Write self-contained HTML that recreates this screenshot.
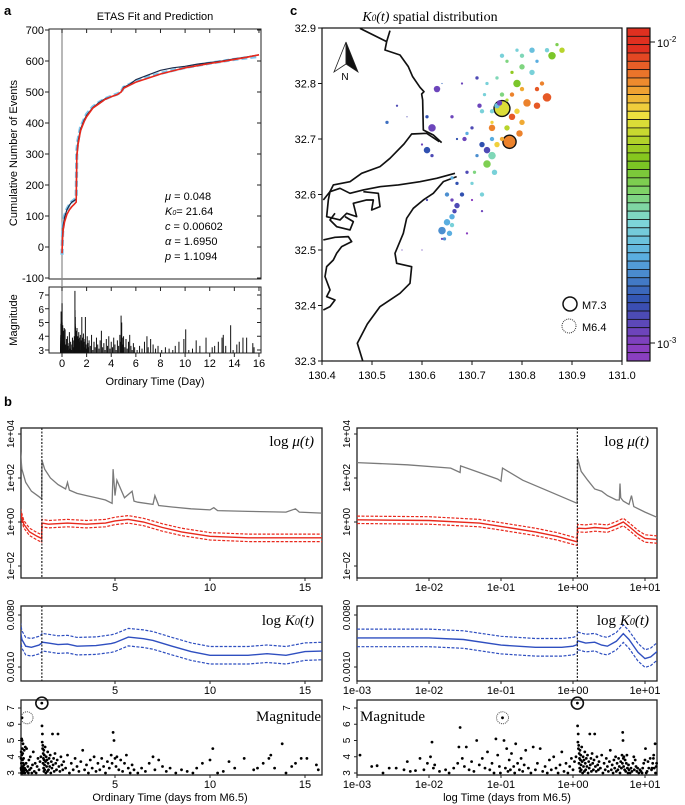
<!DOCTYPE html>
<html><head><meta charset="utf-8"><style>
html,body{margin:0;padding:0;background:#fff}
svg{display:block;font-family:"Liberation Sans",sans-serif}
.serif{font-family:"Liberation Serif",serif}
</style></head><body>
<svg id="fig" width="685" height="805" viewBox="0 0 685 805" xmlns="http://www.w3.org/2000/svg">
<defs>
<clipPath id="cA"><rect x="49" y="29" width="212" height="250"/></clipPath>
<clipPath id="cAm"><rect x="49" y="287" width="212" height="66"/></clipPath>
<clipPath id="cC"><rect x="322" y="28" width="300" height="333"/></clipPath>
<clipPath id="cL1"><rect x="21" y="428" width="301" height="150"/></clipPath>
<clipPath id="cL2"><rect x="21" y="606" width="301" height="75"/></clipPath>
<clipPath id="cR1"><rect x="357" y="428" width="300" height="150"/></clipPath>
<clipPath id="cR2"><rect x="357" y="606" width="300" height="75"/></clipPath>
</defs>
<text x="4" y="15" font-size="13" font-weight="bold">a</text>
<text x="290" y="15" font-size="13" font-weight="bold">c</text>
<text x="4" y="406" font-size="13" font-weight="bold">b</text>
<text x="155" y="20" font-size="11" text-anchor="middle">ETAS Fit and Prediction</text>
<text x="0" y="0" font-size="11" text-anchor="middle" transform="translate(17,153) rotate(-90)">Cumulative Number of Events</text>
<text x="0" y="0" font-size="11" text-anchor="middle" transform="translate(17,320) rotate(-90)">Magnitude</text>
<text x="155" y="385" font-size="11" text-anchor="middle">Ordinary Time (Day)</text>
<g font-size="11">
<text x="165" y="200"><tspan font-style="italic">μ</tspan> = 0.048</text>
<text x="165" y="215"><tspan font-style="italic">K</tspan><tspan font-size="7" font-style="italic">0</tspan>=   21.64</text>
<text x="165" y="230"><tspan font-style="italic">c</tspan> =  0.00602</text>
<text x="165" y="245"><tspan font-style="italic">α</tspan> =  1.6950</text>
<text x="165" y="260"><tspan font-style="italic">p</tspan> = 1.1094</text>
</g>
<text x="430" y="21" font-size="14" text-anchor="middle" class="serif"><tspan font-style="italic">K</tspan><tspan font-size="9" font-style="italic">0</tspan><tspan font-style="italic">(t)</tspan> spatial distribution</text>
<g id="gA"></g><g id="gC"></g><g id="gB"></g>
<text x="170" y="801" font-size="11" text-anchor="middle">Ordinary Time (days from M6.5)</text>
<text x="507" y="801" font-size="11" text-anchor="middle">log Time (days from M6.5)</text>
</svg>
<script>
// ---------- data: catalog events (days from start, magnitude) ----------
const evT=[.0011,.0016,.0019,.0023,.0028,.0035,.0045,.005,.0055,.0065,.0075,.0085,.0095,.0105,.011,.0115,.012,.014,.017,.019,.022,.025,.026,.027,.029,.031,.033,.036,.039,.042,.046,.05,.055,.06,.065,.07,.075,.08,.085,.09,.095,.098,
.105,.11,.115,.12,.125,.13,.135,.14,.15,.155,.16,.17,.18,.19,.2,.21,.22,.24,.26,.28,.3,.32,.35,.38,.41,.44,.47,.5,.54,.58,.62,.66,.7,.75,.8,.85,.9,.95,1.0,1.05,1.1,
1.15,1.16,1.17,1.18,1.19,1.2,1.21,1.22,1.23,1.24,1.25,1.26,1.27,1.28,1.29,1.3,1.32,1.34,1.36,1.38,1.4,1.42,1.44,1.46,1.48,1.5,1.53,1.56,1.59,1.62,1.65,1.68,1.71,1.74,1.77,1.8,1.84,1.88,1.92,1.96,2.0,2.05,2.1,2.15,2.2,2.25,2.3,2.4,2.5,2.6,2.7,2.8,2.9,3.0,3.1,3.2,3.3,3.4,3.5,3.6,3.7,3.8,3.9,4.0,4.1,4.2,4.3,4.4,4.5,4.6,4.7,4.8,4.85,4.9,4.95,5.0,5.05,5.1,5.2,5.3,5.4,5.5,5.6,5.7,5.8,5.9,6.0,6.2,6.4,6.6,6.8,7.0,7.1,7.3,7.5,7.7,7.9,8.2,8.5,8.8,9.1,9.3,9.6,10.0,10.15,10.4,10.7,11.0,11.3,11.8,12.3,12.5,12.8,13.1,13.2,13.4,13.8,14.0,14.3,14.5,14.8,15.1,15.6,15.7];
const evM=[4.1,3.4,3.45,3.0,3.3,3.3,3.2,3.7,3.1,3.15,3.9,3.2,3.6,4.0,4.9,3.3,3.5,3.1,3.2,3.0,3.3,3.6,4.6,5.8,3.9,3.4,4.6,3.2,3.7,3.1,5.0,3.5,3.9,3.3,4.3,3.2,3.6,3.0,5.1,4.1,3.4,3.0,
6.4,5.0,3.3,4.5,3.1,3.8,3.2,4.2,3.4,3.0,4.8,3.6,3.2,3.9,3.1,3.5,4.4,3.3,3.0,4.6,3.2,3.6,4.5,3.1,3.4,3.0,3.8,3.2,4.0,3.3,3.0,3.5,4.3,3.1,3.6,3.0,3.4,3.9,3.2,3.7,4.0,
7.3,5.9,4.9,5.4,4.5,4.7,3.6,4.2,3.9,3.3,4.4,3.1,3.8,4.1,3.5,3.2,4.6,3.7,3.0,4.0,3.4,3.8,3.1,4.3,3.6,3.2,3.9,3.4,4.1,3.0,3.7,3.3,5.4,3.5,3.9,3.1,4.2,3.6,3.2,3.8,5.4,3.4,3.1,4.0,3.5,3.2,3.7,3.3,4.1,3.0,3.6,3.2,3.9,3.4,3.1,3.7,4.4,3.2,3.5,3.0,3.8,3.3,4.0,3.1,3.6,3.2,3.9,3.4,3.0,3.7,3.3,4.1,3.6,5.5,5.0,3.9,3.4,4.0,3.2,3.8,3.1,3.6,4.1,3.3,3.0,3.5,3.2,3.0,3.3,3.1,3.6,4.0,3.2,3.8,3.4,3.1,3.3,3.0,3.2,3.1,3.0,3.3,3.6,3.8,4.5,3.0,3.1,3.7,3.3,3.9,3.2,3.3,3.6,3.9,4.1,3.3,4.8,3.0,3.4,3.6,3.9,3.9,3.5,3.2];
// ---------- panel a: cumulative counts ----------
const cumT=[0,0.05,0.1,0.2,0.4,0.6,0.8,1.0,1.15,1.2,1.3,1.5,1.8,2,2.5,3,3.5,4,4.5,4.8,5,5.5,6,7,8,9,10,11,12,13,14,15,16];
const cumObs=[-20,40,70,95,120,135,145,150,155,300,340,380,410,425,450,465,478,485,492,500,515,525,540,555,570,578,583,590,595,600,607,613,620];
const cumFit=[-20,30,55,80,105,120,130,138,145,290,330,375,405,420,448,462,476,485,492,500,512,522,532,545,558,568,578,585,592,598,605,612,620];
const cumPred=[-25,45,75,100,122,136,146,152,160,310,345,385,412,428,452,466,478,486,494,500,515,525,535,548,560,570,579,586,593,599,605,610,615];
const aXTicks=[0,2,4,6,8,10,12,14,16];
const aYTicks=[-100,0,100,200,300,400,500,600,700];
const aMTicks=[3,4,5,6,7];
// ---------- panel b: background rate mu (log10) ----------
const tGL=[0.02,0.1,0.3,0.6,1.0,1.14,1.16,1.3,1.6,2,2.4,2.5,2.6,3,3.5,4,4.5,4.85,4.9,5.0,5.1,5.5,5.9,6.0,6.2,7.0,7.1,7.3,8,9,10,10.2,10.4,12,14,14.5,14.7,16];
const grayL=[3.2,2.4,1.8,1.4,1.15,1.05,2.8,2.4,2.0,1.7,1.5,1.8,1.45,1.3,1.2,1.1,1.0,0.85,2.4,1.2,1.9,1.1,1.4,0.95,0.9,0.8,1.2,0.75,0.68,0.6,0.55,0.65,0.52,0.48,0.45,0.6,0.45,0.4];
const tRL=[0.02,0.2,0.5,0.9,1.14,1.16,1.5,2.5,3.5,4.5,5.0,5.7,6.5,7.5,8.5,10,12,14,16];
const redL=[0.45,-0.1,-0.45,-0.65,-0.75,-0.05,-0.1,-0.05,-0.1,-0.05,0.05,0.12,0.0,-0.25,-0.45,-0.65,-0.72,-0.72,-0.72];
const tGR=[0.001,0.005,0.02,0.027,0.0275,0.05,0.09,0.1,0.105,0.2,0.5,1.14,1.16,1.3,1.6,2,2.5,3,4,4.4,4.5,4.6,5,6,6.5,7,10,15];
const grayR=[2.7,2.6,2.45,2.25,2.55,2.25,1.95,1.85,2.45,1.9,1.35,0.85,2.9,2.3,1.9,1.5,1.4,1.2,1.0,1.0,1.75,1.1,0.95,0.8,1.2,0.7,0.45,0.2];
const tRR=[0.001,0.01,0.05,0.1,0.3,0.6,1.14,1.16,1.5,2,3,4,5,6,8,10,15];
const redR=[0.1,0.07,-0.05,-0.2,-0.45,-0.65,-0.9,-0.28,-0.3,-0.25,-0.3,-0.15,0.0,-0.2,-0.55,-0.75,-0.8];
const redBand=0.17;
// ---------- panel b: K0 (x1e-3) ----------
const tKL=[0.02,0.1,0.3,0.6,1.0,1.14,1.16,1.5,2,2.5,3,4,4.8,5.0,5.7,6.5,7,8,9,10,12,13,14,15,16];
const kL=[4.2,3.0,2.3,2.2,2.4,2.6,2.7,2.6,2.45,2.5,2.3,2.35,2.55,2.65,3.3,3.1,2.9,2.3,1.85,1.6,1.6,1.7,1.6,1.85,1.9];
const tKR=[0.001,0.01,0.03,0.1,0.3,0.7,1.0,1.14,1.16,1.5,2,2.5,3,4,5,6,8,10,12,15];
const kR=[3.2,3.2,3.0,2.4,2.2,2.2,2.3,2.45,2.85,2.6,2.7,2.4,2.3,2.8,3.8,3.0,1.8,1.4,1.5,1.9];
const kBand=1.42;
const mainShockT=1.15, foreShockT=0.105;
const linTicks=[5,10,15];
const logTicks=[0.001,0.01,0.1,1,10];
const logTickLabels=["1e-03","1e-02","1e-01","1e+00","1e+01"];
const muTicks=[4,2,0,-2];
const muTickLabels=["1e+04","1e+02","1e+00","1e\u221202"];
const kTicks=[0.008,0.001];
const kTickLabels=["0.0080","0.0010"];
const bMTicks=[3,4,5,6,7];
// ---------- panel c: epicentres ----------
const dotLon=[130.85,130.81,130.79,130.83,130.795,130.78,130.80,130.79,130.77,130.74,130.82,130.80,130.84,130.83,130.86,130.88,130.85,130.87,130.82,130.80,130.83,130.75,130.74,130.76,130.755,130.73,130.72,130.74,130.73,130.745,130.75,130.76,130.74,130.71,130.705,130.70,130.72,130.68,130.67,130.66,130.665,130.66,130.65,130.64,130.655,130.645,130.66,130.65,130.67,130.66,130.69,130.70,130.72,130.69,130.61,130.62,130.63,130.61,130.62,130.70,130.69,130.685,130.66,130.67,130.71,130.68,130.73,130.715,130.75,130.725,130.77,130.78,130.76,130.79,130.78,130.80,130.77,130.72,130.74,130.64,130.61,130.56,130.55,130.53,130.60,130.64,130.57,130.42,130.60,130.76,130.775];
const dotLat=[32.775,32.765,32.80,32.76,32.71,32.74,32.73,32.75,32.72,32.72,32.82,32.83,32.80,32.79,32.85,32.86,32.86,32.87,32.86,32.85,32.84,32.76,32.75,32.78,32.765,32.68,32.69,32.67,32.655,32.64,32.69,32.70,32.70,32.67,32.64,32.62,32.60,32.60,32.58,32.59,32.57,32.56,32.55,32.535,32.53,32.52,32.545,32.60,32.62,32.63,32.64,32.59,32.57,32.53,32.68,32.72,32.79,32.74,32.67,32.72,32.71,32.70,32.74,32.70,32.81,32.80,32.80,32.76,32.81,32.78,32.84,32.82,32.85,32.86,32.78,32.79,32.77,32.75,32.73,32.52,32.59,32.50,32.76,32.73,32.69,32.80,32.74,32.30,32.50,32.755,32.695];
const dotMag=[5.5,5,5,4.5,4.5,4.5,4,4,4,4.5,4,4,3.5,3.5,5,4,3.5,3,4,3.5,3,4,3.5,3.5,4,4.5,4,5,5,4,4,3.5,3.5,3,3,3,3.5,3.5,4,3,3.5,4,4.5,5,4,3,3.5,3.5,3,3,3,2.5,2.5,2.5,4.5,5,4.5,3,3,3,3,3.5,3,2.5,3,2.5,3,3.5,3,3,3,3,3.5,3,3.5,3.5,3,3.5,3,2.5,2.5,2,2.5,3,2.5,2,2,2,2,7.3,6.4];
const dotK=[-2.05,-2.1,-2.4,-2.05,-2.1,-2.05,-2.15,-2.2,-2.3,-2.1,-2.6,-2.5,-2.1,-2.05,-2.4,-2.3,-2.6,-2.45,-2.65,-2.55,-2.7,-2.65,-2.6,-2.5,-2.95,-2.9,-2.85,-2.55,-2.45,-2.6,-2.2,-2.15,-2.7,-2.75,-2.5,-2.6,-2.6,-2.85,-2.9,-2.95,-2.9,-2.7,-2.7,-2.75,-2.7,-2.75,-2.6,-2.75,-2.85,-2.7,-2.9,-3,-2.95,-3,-2.85,-2.95,-2.95,-2.85,-2.9,-2.9,-2.7,-2.95,-2.95,-2.85,-2.9,-2.95,-2.6,-2.95,-2.55,-2.6,-2.5,-2.35,-2.6,-2.6,-2.1,-2.15,-2.3,-2.6,-2.2,-2.95,-2.9,-2.95,-2.9,-2.8,-2.95,-2.8,-2.9,-2.95,-2.95,-2.25,-2.1];
const lonTicks=[130.4,130.5,130.6,130.7,130.8,130.9,131.0];
const latTicks=[32.3,32.4,32.5,32.6,32.7,32.8,32.9];

// ================= drawing =================
const NS="http://www.w3.org/2000/svg";
function mk(parent,tag,attrs){const e=document.createElementNS(NS,tag);for(const k in attrs)e.setAttribute(k,attrs[k]);parent.appendChild(e);return e;}
function pathFrom(xs,ys,fx,fy){let d="";for(let i=0;i<xs.length;i++)d+=(i?"L":"M")+fx(xs[i]).toFixed(1)+","+fy(ys[i]).toFixed(1);return d;}
function txt(parent,x,y,s,size,anchor){const t=mk(parent,"text",{x:x,y:y,"font-size":size,"text-anchor":anchor||"middle"});t.textContent=s;return t;}

// ---- Panel A ----
const gA=document.getElementById("gA");
const xa=t=>62+t*12.31, ya=v=>278-(v+100)*0.31, yam=m=>350-(m-3)*13.75;
let r=mk(gA,"rect",{x:49,y:29,width:212,height:250,fill:"none",stroke:"#222","stroke-width":1});


r=mk(gA,"rect",{x:49,y:287,width:212,height:66,fill:"none",stroke:"#222","stroke-width":1});


let l=mk(gA,"line",{x1:xa(0),x2:xa(0),y1:29,y2:353,stroke:"#888","stroke-width":1.2});


aXTicks.forEach(v=>{mk(gA,"line",{x1:xa(v),x2:xa(v),y1:29,y2:33,stroke:"#222"});mk(gA,"line",{x1:xa(v),x2:xa(v),y1:287,y2:291,stroke:"#222"});mk(gA,"line",{x1:xa(v),x2:xa(v),y1:353,y2:357,stroke:"#222"});
 const t=txt(gA,xa(v),367,String(v),11);});
aYTicks.forEach(v=>{mk(gA,"line",{x1:45,x2:49,y1:ya(v),y2:ya(v),stroke:"#222"});mk(gA,"line",{x1:261,x2:257,y1:ya(v),y2:ya(v),stroke:"#222"});
 const t=txt(gA,44,ya(v)+4,String(v),11,"end");});
aMTicks.forEach(v=>{mk(gA,"line",{x1:45,x2:49,y1:yam(v),y2:yam(v),stroke:"#222"});mk(gA,"line",{x1:261,x2:257,y1:yam(v),y2:yam(v),stroke:"#222"});
 const t=txt(gA,44,yam(v)+4,String(v),10,"end");});
const gAc=mk(gA,"g",{"clip-path":"url(#cA)"});
let p=mk(gAc,"path",{d:pathFrom(cumT,cumPred,xa,ya),fill:"none",stroke:"#7fc6ec","stroke-width":3.2,"stroke-dasharray":"6,3"});


p=mk(gAc,"path",{d:pathFrom(cumT,cumObs,xa,ya),fill:"none",stroke:"#1b2a4a","stroke-width":1.2});


p=mk(gAc,"path",{d:pathFrom(cumT,cumFit,xa,ya),fill:"none",stroke:"#e8281c","stroke-width":1.6});


const gAm=mk(gA,"g",{"clip-path":"url(#cAm)"});
for(let i=0;i<evT.length;i++){const b=mk(gAm,"line",{x1:xa(evT[i]-0.1),x2:xa(evT[i]-0.1),y1:353,y2:yam(evM[i]),stroke:"#111","stroke-width":1});
 
 }

// ---- Panel C ----
const gC=document.getElementById("gC");
const xc=lo=>322+(lo-130.4)*500, yc=la=>361-(la-32.3)*555;
function kColor(k){const f=Math.max(0,Math.min(1,(k+3)));
 const st=[[0,[138,63,192]],[0.15,[48,80,176]],[0.3,[90,174,224]],[0.42,[127,216,216]],[0.52,[127,212,106]],[0.62,[122,194,26]],[0.72,[200,216,48]],[0.78,[240,224,64]],[0.87,[240,154,48]],[1,[224,48,32]]];
 for(let i=1;i<st.length;i++){if(f<=st[i][0]){const a=st[i-1],b=st[i],u=(f-a[0])/(b[0]-a[0]);return "rgb("+a[1].map((c,j)=>Math.round(c+(b[1][j]-c)*u)).join(",")+")";}}return "rgb(224,48,32)";}
const gCc=mk(gC,"g",{"clip-path":"url(#cC)"});
const coast=mk(gCc,"g",{transform:"translate(280,0) scale(0.3333)",fill:"none",stroke:"#111","stroke-width":5,"stroke-linejoin":"round"});


["M240,85 L320,125 L330,92 M320,125 L315,150 L360,165 L385,200 L398,230 L420,262 L432,275 L425,282 L428,300 L430,390 L460,405 L485,428",
 "M478,425 L440,400 L395,402 L372,432 L330,475 L300,500 L245,520 L210,545 L160,555 L150,575 L130,600",
 "M525,520 L470,535 L420,545 L355,555 L300,560 L250,570 L210,580 L180,565 L150,575 L145,600 L140,650 L180,660 L200,640 L230,650 L220,610 L260,600 L280,600 L275,630 L300,620 L295,580 L250,575",
 "M530,530 L490,545 L460,580 L430,600 L400,625 L380,655 L370,700 L345,760 L350,790 L395,800 L390,850 L360,880 L300,920 L262,972 L232,1030 L248,1082",
 "M130,720 L165,712 L205,710 L215,725 L185,740 L170,760 L160,780 L140,800 L135,830 L150,870 L140,890 L165,900 L150,920 L130,930",
 "M165,640 L150,660 L170,680 L210,690 L220,665 L195,650"
].forEach(d=>mk(coast,"path",{d:d}));
const order=dotLon.map((_,i)=>i).sort((a,b)=>dotMag[b]-dotMag[a]);
order.forEach(i=>{const big=dotMag[i]>=6;const rad=big?(dotMag[i]-2)*1.5:0.6+(dotMag[i]-2)*1.05;
 const c=mk(gCc,"circle",{cx:xc(dotLon[i]),cy:yc(dotLat[i]),r:rad.toFixed(2),fill:kColor(dotK[i]),stroke:big?"#111":"none","stroke-width":1.4});
 
 });
r=mk(gC,"rect",{x:322,y:28,width:300,height:333,fill:"none",stroke:"#111","stroke-width":1.2});


lonTicks.forEach(v=>{mk(gC,"line",{x1:xc(v),x2:xc(v),y1:361,y2:365,stroke:"#111"});const t=txt(gC,xc(v),379,v.toFixed(1),11);});
latTicks.forEach(v=>{mk(gC,"line",{x1:318,x2:322,y1:yc(v),y2:yc(v),stroke:"#111"});const t=txt(gC,316,yc(v)+4,v.toFixed(1),11,"end");});
const na=mk(gC,"g",{});


mk(na,"path",{d:"M346,42 L334,72 L346,64 Z",fill:"#fff",stroke:"#222","stroke-width":0.8});
mk(na,"path",{d:"M346,42 L358,72 L346,64 Z",fill:"#111",stroke:"#222","stroke-width":0.8});
txt(na,345,80,"N",10);
const lg=mk(gC,"g",{});


mk(lg,"circle",{cx:570,cy:304,r:7,fill:"none",stroke:"#111","stroke-width":1.5});
txt(lg,582,309,"M7.3",11,"start");
mk(lg,"circle",{cx:569,cy:326,r:7,fill:"none",stroke:"#333","stroke-width":1,"stroke-dasharray":"1,1"});
txt(lg,582,331,"M6.4",11,"start");
const cb=mk(gC,"g",{});


const nSeg=40, cbTop=28, cbBot=361, ykc=k=>343-(k+3)*301;
for(let i=0;i<nSeg;i++){const y0=cbTop+(cbBot-cbTop)*i/nSeg,h=(cbBot-cbTop)/nSeg;const kk=-3.05+1.12*(1-(i+0.5)/nSeg);
 mk(cb,"rect",{x:627,y:y0.toFixed(2),width:23,height:h.toFixed(2),fill:kColor(kk),stroke:"#111","stroke-width":0.8});}
mk(cb,"rect",{x:627,y:28,width:23,height:333,fill:"none",stroke:"#111","stroke-width":1.2});
[[-2,"-2"],[-3,"-3"]].forEach(([k,s])=>{mk(cb,"line",{x1:650,x2:655,y1:ykc(k),y2:ykc(k),stroke:"#111"});
 const t=mk(cb,"text",{x:657,y:ykc(k)+5,"font-size":11});t.textContent="10";const ts=mk(t,"tspan",{dy:-5,"font-size":8});ts.textContent=s;});

// ---- Panel B ----
const gB=document.getElementById("gB");
const xl=t=>20+t*19, xr=t=>573+Math.log10(t)*72;
const ymu=v=>522-v*22, yk=v=>615+(-2.097-Math.log10(v))*57.6, ymb=m=>773-(m-3)*16.25;
function frame(x,y,w,h,name){const f=mk(gB,"rect",{x:x,y:y,width:w,height:h,fill:"none",stroke:"#222","stroke-width":1.3});}
function yTick(x,y,s,name){mk(gB,"line",{x1:x-3,x2:x,y1:y,y2:y,stroke:"#222"});const t=mk(gB,"text",{x:0,y:0,"font-size":10,"text-anchor":"middle",transform:"translate("+(x-7)+","+y+") rotate(-90)"});t.textContent=s;}
function xTick(x,yb,yl,s,name){mk(gB,"line",{x1:x,x2:x,y1:yb,y2:yb+3,stroke:"#222"});if(s!==null){const t=txt(gB,x,yl,s,11);}}
function label(x,y,parts,name){const t=mk(gB,"text",{x:x,y:y,"font-size":15,"text-anchor":"end","font-family":"Liberation Serif, serif"});parts.forEach(([s,it,sz])=>{const sp=mk(t,"tspan",{});if(it)sp.setAttribute("font-style","italic");if(sz)sp.setAttribute("font-size",sz);sp.textContent=s;});}
function vdash(x,y1,y2){const d=mk(gB,"line",{x1:x,x2:x,y1:y1,y2:y2,stroke:"#222","stroke-width":1.2,"stroke-dasharray":"2,1.5"});}
function band(g,ts,vs,fx,fy,col,off,mult,name){
 const up=vs.map(v=>mult?v*off:v+off), lo=vs.map(v=>mult?v/off:v-off);
 [up,lo].forEach(a=>{const q=mk(g,"path",{d:pathFrom(ts,a,fx,fy),fill:"none",stroke:col,"stroke-width":1.2,"stroke-dasharray":"3,1.5"});});
 const q=mk(g,"path",{d:pathFrom(ts,vs,fx,fy),fill:"none",stroke:col,"stroke-width":1.4});}
[[21,xl,"cL1","cL2",false],[357,xr,"cR1","cR2",true]].forEach(([X0,fx,c1,c2,isLog])=>{
 const W=isLog?300:301;
 frame(X0,428,W,150,isLog?'mu-log-frame':'mu-ordinary-frame');
 muTicks.forEach((v,i)=>yTick(X0,ymu(v),muTickLabels[i],'mu-y-tick-label'));
 const g1=mk(gB,"g",{"clip-path":"url(#"+c1+")"});
 const gp=mk(g1,"path",{d:isLog?pathFrom(tGR,grayR,fx,ymu):pathFrom(tGL,grayL,fx,ymu),fill:"none",stroke:"#7a7a7a","stroke-width":1.3});
 
 
 if(isLog)band(g1,tRR,redR,fx,ymu,"#e8281c",redBand,false,'mu-line');else band(g1,tRL,redL,fx,ymu,"#e8281c",redBand,false,'mu-line');
 vdash(fx(mainShockT),428,578);
 label(X0+W-8,446,[["log "],["μ(t)",true]],'mu-label');
 if(isLog)logTicks.forEach((v,i)=>xTick(fx(v),578,591,i===0?null:logTickLabels[i],'mu-x-tick-label'));
 else linTicks.forEach(v=>xTick(fx(v),578,591,String(v),'mu-x-tick-label'));
 frame(X0,606,W,75,isLog?'k0-log-frame':'k0-ordinary-frame');
 kTicks.forEach((v,i)=>yTick(X0,yk(v),kTickLabels[i],'k0-y-tick-label'));
 const g2=mk(gB,"g",{"clip-path":"url(#"+c2+")"});
 const kk=(isLog?kR:kL).map(v=>v/1000);
 band(g2,isLog?tKR:tKL,kk,fx,yk,"#2f4fc0",kBand,true,'k0-line');
 vdash(fx(mainShockT),606,681);
 label(X0+W-8,625,[["log "],["K",true],["0",true,10],["(t)",true]],'k0-label');
 if(isLog)logTicks.forEach((v,i)=>xTick(fx(v),681,694,logTickLabels[i],'k0-x-tick-label'));
 else linTicks.forEach(v=>xTick(fx(v),681,694,String(v),'k0-x-tick-label'));
 frame(X0,700,W,75,isLog?'mag-log-frame':'mag-ordinary-frame');
 bMTicks.forEach(v=>yTick(X0,ymb(v),String(v),'mag-y-tick-label'));
 for(let i=0;i<evT.length;i++){const x=fx(evT[i]);if(x<X0||x>X0+W)continue;
  const pt=mk(gB,"circle",{cx:x.toFixed(1),cy:ymb(evM[i]).toFixed(1),r:1.4,fill:"#000"});
  
  }
 let cm=mk(gB,"circle",{cx:fx(mainShockT),cy:ymb(7.3),r:6,fill:"none",stroke:"#111","stroke-width":1.6});
 
 
 cm=mk(gB,"circle",{cx:isLog?fx(foreShockT):27,cy:ymb(6.4),r:6,fill:"none",stroke:"#444","stroke-width":1,"stroke-dasharray":"1,1"});
 
 
 const ml=mk(gB,"text",{x:isLog?X0+3:X0+W-1,y:721,"font-size":15,"text-anchor":isLog?"start":"end","font-family":"Liberation Serif, serif"});ml.textContent="Magnitude";
 
 
 if(isLog)logTicks.forEach((v,i)=>xTick(fx(v),775,788,logTickLabels[i],'mag-x-tick-label'));
 else linTicks.forEach(v=>xTick(fx(v),775,788,String(v),'mag-x-tick-label'));
});
</script>
</body></html>
